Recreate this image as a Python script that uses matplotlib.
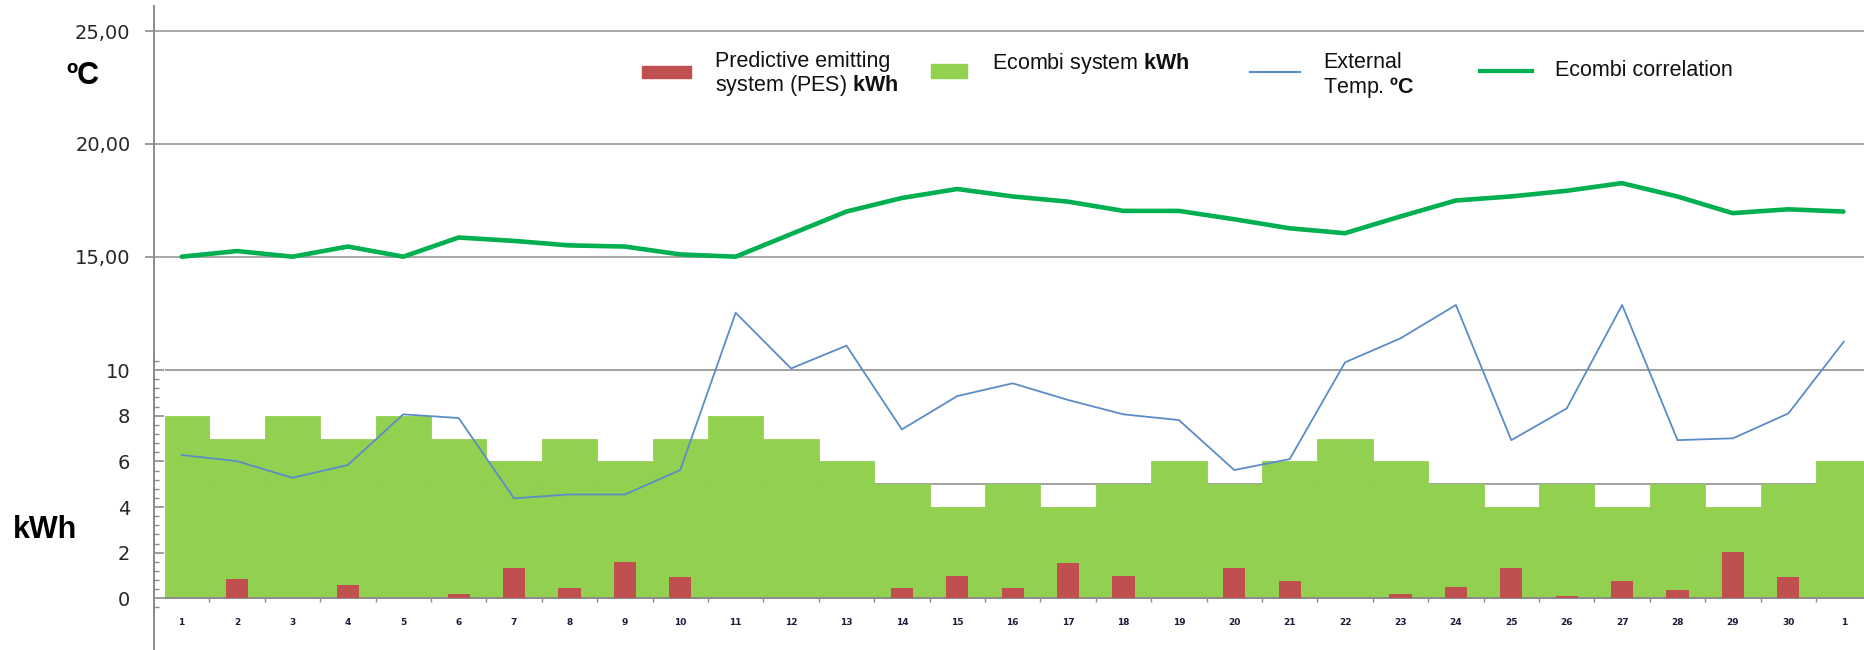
import matplotlib.pyplot as plt
import numpy as np
from matplotlib.lines import Line2D
from matplotlib.patches import Rectangle

plt.rcParams['font.family'] = ['DejaVu Sans']
plt.rcParams['mathtext.fontset'] = 'custom'
plt.rcParams['mathtext.rm'] = 'Liberation Sans'
plt.rcParams['mathtext.bf'] = 'Liberation Sans:bold'

# daily values, last column is the first day of the next month
days = [str(d) for d in range(1, 31)] + ["1"]
pes_kwh = [0, 0.83, 0, 0.58, 0, 0.19, 1.33, 0.44, 1.58, 0.92,
           0, 0, 0, 0.44, 0.99, 0.44, 1.56, 0.99, 0, 1.33,
           0.74, 0, 0.19, 0.51, 1.33, 0.11, 0.74, 0.35, 2.04, 0.92, 0]
ecombi_kwh = [8, 7, 8, 7, 8, 7, 6, 7, 6, 7,
              8, 7, 6, 5, 4, 5, 4, 5, 6, 5,
              6, 7, 6, 5, 4, 5, 4, 5, 4, 5, 6]
ext_temp = [6.28, 6.01, 5.28, 5.84, 8.06, 7.90, 4.38, 4.55, 4.55, 5.62,
            12.51, 10.07, 11.07, 7.40, 8.86, 9.42, 8.69, 8.06, 7.81, 5.62,
            6.10, 10.34, 11.39, 12.85, 6.93, 8.32, 12.85, 6.93, 7.01, 8.10, 11.24]
ecombi_corr = [15.0, 15.25, 15.0, 15.45, 15.0, 15.85, 15.7, 15.5, 15.45, 15.1,
               15.0, 16.0, 17.0, 17.6, 18.0, 17.67, 17.44, 17.03, 17.03, 16.66,
               16.26, 16.04, 16.78, 17.49, 17.67, 17.92, 18.26, 17.67, 16.93, 17.1, 17.0]
temp_ticks = [15, 20, 25]
temp_labels = ["15,00", "20,00", "25,00"]
kwh_ticks = [0, 2, 4, 6, 8, 10]
kwh_grid = [5, 10]

W, H = 1865, 650
AXIS_GREY = '#8c8c8c'
GRID_GREY = '#a0a0a0'


def fx(px):
    return px / W


def fy(py):
    return 1 - py / H


fig = plt.figure(figsize=(W / 100, H / 100), dpi=100)
x = np.arange(len(days))

# temperature axes (upper part of the chart)
ax_c = fig.add_axes([fx(154), 0, (W - 154) / W, (H - 6) / H])
ax_c.set_xlim(-0.5, 30.39)
ax_c.set_ylim(-2.43, 26.11)
for s in ['top', 'right', 'bottom']:
    ax_c.spines[s].set_visible(False)
ax_c.spines['left'].set_color(AXIS_GREY)
ax_c.spines['left'].set_linewidth(1.4)
ax_c.set_xticks([])
ax_c.set_yticks(temp_ticks)
ax_c.set_yticklabels(temp_labels)
ax_c.tick_params(axis='y', direction='out', length=6.5, width=1.2, color=AXIS_GREY,
                 pad=10.5, labelsize=14, labelcolor='#262626')
for v in temp_ticks:
    ax_c.axhline(v, color=GRID_GREY, lw=1.3, zorder=1)
ax_c.plot(x, ecombi_corr, color='#00b050', lw=3.3, solid_joinstyle='round',
          solid_capstyle='round', zorder=3)

# energy axes (lower part of the chart)
ax_k = fig.add_axes([fx(165), fy(615), (1872 - 165) / W, 260 / H])
ax_k.patch.set_alpha(0)
ax_k.set_xlim(-0.3, 30.51)
ax_k.set_ylim(-0.73, 10.66)
for s in ['top', 'right']:
    ax_k.spines[s].set_visible(False)
# spine sits 11 px left of the plotting area (value in points)
ax_k.spines['left'].set_position(('outward', 7.9))
ax_k.spines['bottom'].set_position(('data', 0))
for s in ['left', 'bottom']:
    ax_k.spines[s].set_color(AXIS_GREY)
    ax_k.spines[s].set_linewidth(1.4)

for v in kwh_grid:
    ax_k.axhline(v, color=GRID_GREY, lw=1.4, zorder=1)
ax_k.bar(x, ecombi_kwh, width=1.0, color='#92d050', edgecolor='#92d050',
         linewidth=0.6, zorder=2)
ax_k.bar(x, pes_kwh, width=0.4, color='#c0504d', zorder=3)
ax_k.plot(x, ext_temp, color='#5b8cc8', lw=1.3, zorder=4, clip_on=False)

ax_k.set_yticks(kwh_ticks)
ax_k.set_yticks(np.arange(-0.4, 10.5, 0.4), minor=True)
ax_k.tick_params(axis='y', which='major', direction='in', length=7.2, width=1.2,
                 color=AXIS_GREY, pad=17.3, labelsize=14, labelcolor='#262626')
ax_k.tick_params(axis='y', which='minor', direction='in', length=3.6, width=1.0,
                 color=AXIS_GREY)
ax_k.set_xticks(x)
ax_k.set_xticklabels(days)
ax_k.set_xticks(x[:-1] + 0.5, minor=True)
ax_k.tick_params(axis='x', which='major', length=0, pad=14.5, labelsize=6.5,
                 labelcolor='#1c1c3c')
ax_k.tick_params(axis='x', which='minor', direction='out', length=3, width=1.0,
                 color=AXIS_GREY)
for lbl in ax_k.get_xticklabels():
    lbl.set_fontweight('bold')

# axis titles
fig.text(fx(83), fy(76), 'ºC', ha='center', va='center', fontsize=22,
         fontweight='bold', family='Liberation Sans')
fig.text(fx(45), fy(530), 'kWh', ha='center', va='center', fontsize=22,
         fontweight='bold', family='Liberation Sans')

# legend
fig.patches.append(Rectangle((fx(642), fy(78)), 49 / W, 12 / H,
                             transform=fig.transFigure, color='#c0504d'))
fig.patches.append(Rectangle((fx(931), fy(78)), 36 / W, 14 / H,
                             transform=fig.transFigure, color='#92d050'))
fig.add_artist(Line2D([fx(1250), fx(1300)], [fy(72), fy(72)],
                      transform=fig.transFigure, color='#5b8cc8', lw=1.5))
fig.add_artist(Line2D([fx(1480), fx(1532)], [fy(71), fy(71)],
                      transform=fig.transFigure, color='#00b050', lw=3))

legend_font = dict(ha='left', va='center', fontsize=15.5, family='Liberation Sans',
                   color='#111111')
fig.text(fx(715), fy(62), 'Predictive emitting', **legend_font)
fig.text(fx(715), fy(86), r'system (PES) $\mathbf{kWh}$', **legend_font)
fig.text(fx(992), fy(63), r'Ecombi system $\mathbf{kWh}$', **legend_font)
fig.text(fx(1323), fy(63), 'External', **legend_font)
fig.text(fx(1323), fy(88), r'Temp. $\mathbf{ºC}$', **legend_font)
fig.text(fx(1555), fy(70), 'Ecombi correlation', **legend_font)

fig.savefig('out.png', dpi=100)
